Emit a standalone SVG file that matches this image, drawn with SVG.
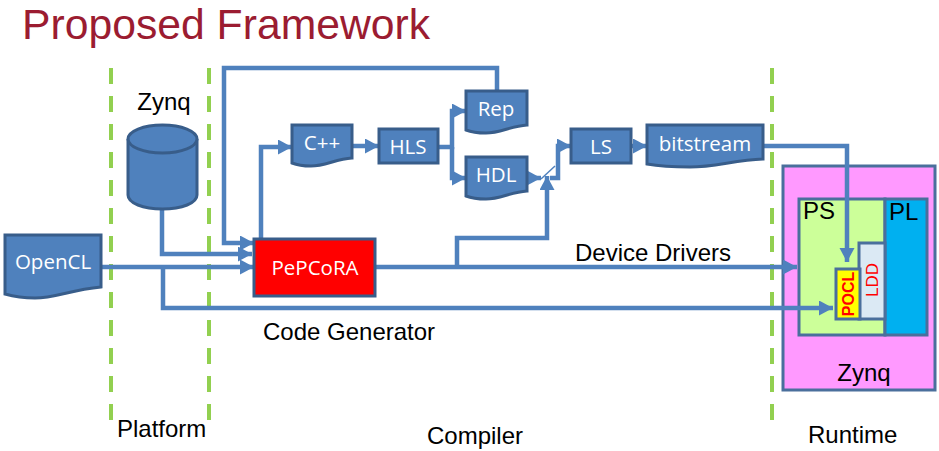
<svg xmlns="http://www.w3.org/2000/svg" width="939" height="451" viewBox="0 0 939 451">
<defs>
<marker id="ah" markerUnits="userSpaceOnUse" markerWidth="15" markerHeight="16" refX="14" refY="7.500" orient="auto"><path d="M0 0L14 7.500L0 15Z" fill="#4f81bd"/></marker>
</defs>
<style>
text{font-family:"Liberation Sans",Arial,sans-serif}
.sh{fill:#4f81bd;stroke:#385d8a;stroke-width:3}
.lb{fill:#fff;font-family:"Open Sans","Noto Sans",sans-serif;font-size:20.500px;text-anchor:middle}
.bk{fill:#000;font-size:24px}
.c{fill:none;stroke:#4f81bd;stroke-width:4.500}
.a{marker-end:url(#ah)}
.d{fill:none;stroke:#92d050;stroke-width:4;stroke-dasharray:16 12}
</style>
<rect width="939" height="451" fill="#fff"/>
<text x="22" y="39" font-size="42.700" fill="#9b1c31">Proposed Framework</text>
<g id="dividers">
<path class="d" d="M111 68V420"/><path class="d" d="M209 68V420"/><path class="d" d="M772 68V420"/>
</g>
<g id="zynq-board">
<rect x="783" y="166" width="152" height="224" fill="#ff99ff" stroke="#4a6f9c" stroke-width="3"/>
<text x="864" y="381" class="bk" text-anchor="middle">Zynq</text>
</g>
<g id="ps">
<rect x="799" y="199" width="86" height="136" fill="#ccff99" stroke="#4a6f9c" stroke-width="3"/>
<text x="803" y="219" class="bk">PS</text>
</g>
<g id="pl">
<rect x="885" y="199" width="42" height="136" fill="#00b0f0" stroke="#4a6f9c" stroke-width="3"/>
<text x="889" y="220" class="bk">PL</text>
</g>
<g id="ldd">
<rect x="859" y="243" width="26" height="76" fill="#dbe9f4" stroke="#4a6f9c" stroke-width="3"/>
<text transform="translate(878 280) rotate(-90)" text-anchor="middle" font-size="17" fill="#ff0000">LDD</text>
</g>
<g id="pocl">
<rect x="836" y="269" width="24" height="50" fill="#ffff00" stroke="#4a6f9c" stroke-width="3"/>
<text transform="translate(854 294) rotate(-90)" text-anchor="middle" font-size="16" font-weight="bold" fill="#ff0000">POCL</text>
</g>
<g id="connectors">
<path class="c a" d="M497 90V68H224V243H254"/>
<path class="c a" d="M162 208V254H252"/>
<path class="c a" d="M101 267H254"/>
<path class="c a" d="M163 267V308H833"/>
<path class="c a" d="M261 238V147H292"/>
<path class="c a" d="M352 146H379"/>
<path class="c a" d="M439 147H452V111H466"/>
<path class="c a" d="M452 147V178H466"/>
<path class="c a" d="M527 178H541"/>
<path class="c a" d="M550 178H558V146H571"/>
<path class="c a" d="M631 146H647"/>
<path class="c a" d="M375 267H797"/>
<path class="c a" d="M457 267V238H547V176"/>
<path class="c a" d="M763 146H847V262"/>
<path fill="none" stroke="#4f81bd" stroke-width="1.500" d="M541 179L555 166"/>
</g>
<g id="opencl"><path class="sh" d="M5 235H101V287C70 290 55 298 35 298C22 298 12 296 5 294Z"/><text x="53" y="269" class="lb">OpenCL</text></g>
<g id="zynq-db">
<path class="sh" d="M128 139V195C128 203 143 209 162.500 209C182 209 197 203 197 195V139"/>
<ellipse class="sh" cx="162.500" cy="139" rx="34.500" ry="14"/>
<text x="164" y="110" class="bk" text-anchor="middle">Zynq</text>
</g>
<g id="pepcora"><rect x="254" y="239" width="121" height="57" fill="#ff0000" stroke="#385d8a" stroke-width="3"/><text x="315" y="275" class="lb">PePCoRA</text></g>
<g id="cpp"><path class="sh" d="M292 125H352V158C336 159 325 166 311 166C303 166 297 165 292 163Z"/><text x="322" y="150" class="lb">C++</text></g>
<g id="hls"><rect class="sh" x="379" y="129" width="59" height="34"/><text x="408" y="154" class="lb">HLS</text></g>
<g id="rep"><path class="sh" d="M466 91H527V125C511 126 500 133 486 133C478 133 471 132 466 130Z"/><text x="496" y="116" class="lb">Rep</text></g>
<g id="hdl"><path class="sh" d="M466 157H527V191C511 192 500 199 486 199C478 199 471 198 466 196Z"/><text x="496" y="182" class="lb">HDL</text></g>
<g id="ls"><rect class="sh" x="571" y="129" width="60" height="34"/><text x="601" y="154" class="lb">LS</text></g>
<g id="bitstream"><path class="sh" d="M647 125H763V159C735 160 715 167 690 167C672 167 658 166 647 164Z"/><text x="705" y="151" class="lb">bitstream</text></g>
<g id="labels">
<text x="575" y="261" class="bk">Device Drivers</text>
<text x="263" y="340" class="bk">Code Generator</text>
<text x="117" y="437" class="bk">Platform</text>
<text x="427" y="444" class="bk">Compiler</text>
<text x="808" y="443" class="bk">Runtime</text>
</g>
</svg>
